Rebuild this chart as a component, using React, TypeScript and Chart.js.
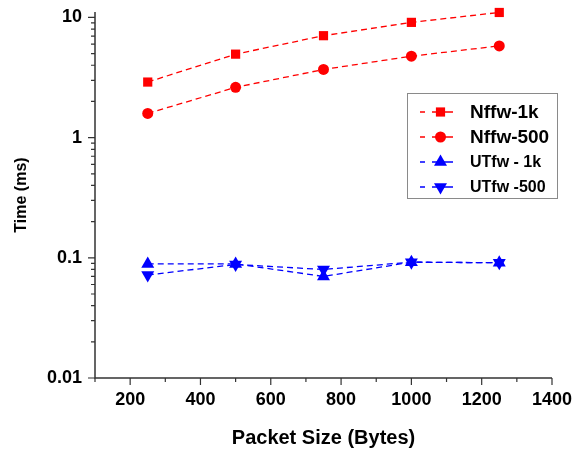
import React, { useEffect, useRef } from 'react';
import { Chart, registerables } from 'chart.js';

Chart.register(...registerables);

const packetSizes = [250, 500, 750, 1000, 1250];
const nffw1k = [2.9, 4.95, 7.05, 9.1, 11.0];
const nffw500 = [1.59, 2.62, 3.69, 4.76, 5.8];
const utfw1k = [0.089, 0.089, 0.07, 0.092, 0.091];
const utfw500 = [0.072, 0.088, 0.08, 0.092, 0.091];
const seriesLabels = ['Nffw-1k', 'Nffw-500', 'UTfw - 1k', 'UTfw -500'];

const yDecades = [0.01, 0.1, 1, 10];
const yDecadeLabels = ['0.01', '0.1', '1', '10'];
const yMinorMultipliers = [2, 3, 4, 5, 6, 7, 8, 9];
const xTickValues = [100, 200, 300, 400, 500, 600, 700, 800, 900, 1000, 1100, 1200, 1300, 1400];
const xTickLabels = ['', '200', '', '400', '', '600', '', '800', '', '1000', '', '1200', '', '1400'];

const FONT = '"Liberation Sans", Arial, sans-serif';
const RED = '#ff0000';
const BLUE = '#0000ff';
const AXIS = '#333333';

type Marker = { style: string; color: string; radius: number; rotation: number };
const markers: Marker[] = [
  { style: 'rect', color: RED, radius: 6.5, rotation: 0 },
  { style: 'circle', color: RED, radius: 5.5, rotation: 0 },
  { style: 'triangle', color: BLUE, radius: 7.5, rotation: 0 },
  { style: 'triangle', color: BLUE, radius: 7.5, rotation: 180 },
];

function drawMarker(ctx: CanvasRenderingContext2D, m: Marker, x: number, y: number) {
  ctx.save();
  ctx.fillStyle = m.color;
  ctx.beginPath();
  if (m.style === 'rect') {
    const s = m.radius * Math.SQRT1_2;
    ctx.rect(x - s, y - s, 2 * s, 2 * s);
  } else if (m.style === 'circle') {
    ctx.arc(x, y, m.radius, 0, Math.PI * 2);
  } else {
    let rad = (m.rotation * Math.PI) / 180;
    const r = m.radius;
    ctx.moveTo(x + Math.sin(rad) * r, y - Math.cos(rad) * r);
    rad += (2 * Math.PI) / 3;
    ctx.lineTo(x + Math.sin(rad) * r, y - Math.cos(rad) * r);
    rad += (2 * Math.PI) / 3;
    ctx.lineTo(x + Math.sin(rad) * r, y - Math.cos(rad) * r);
    ctx.closePath();
  }
  ctx.fill();
  ctx.restore();
}

const axesPlugin = {
  id: 'axesPlugin',
  afterDraw(chart: any) {
    const ctx: CanvasRenderingContext2D = chart.ctx;
    const { left, right, top, bottom } = chart.chartArea;
    const xs = chart.scales.x;
    const ys = chart.scales.y;
    ctx.save();
    ctx.strokeStyle = AXIS;
    ctx.lineWidth = 1.5;
    ctx.beginPath();
    ctx.moveTo(left, top);
    ctx.lineTo(left, bottom);
    ctx.lineTo(right, bottom);
    ctx.stroke();
    ctx.lineWidth = 1.2;
    ctx.beginPath();
    yDecades.forEach((d) => {
      const py = ys.getPixelForValue(d);
      ctx.moveTo(left, py);
      ctx.lineTo(left - 7, py);
      yMinorMultipliers.forEach((k) => {
        const v = d * k;
        if (v <= ys.max) {
          const p = ys.getPixelForValue(v);
          ctx.moveTo(left, p);
          ctx.lineTo(left - 4, p);
        }
      });
    });
    xTickValues.forEach((v, i) => {
      const px = xs.getPixelForValue(v);
      const len = xTickLabels[i] ? 7 : 4;
      ctx.moveTo(px, bottom);
      ctx.lineTo(px, bottom + len);
    });
    ctx.stroke();

    // legend
    const bx = 407.5, by = 93.5, bw = 150, bh = 105;
    ctx.fillStyle = '#ffffff';
    ctx.fillRect(bx, by, bw, bh);
    ctx.strokeStyle = '#8a8a8a';
    ctx.lineWidth = 1;
    ctx.strokeRect(bx, by, bw, bh);
    const rowY = [112, 137, 162, 187];
    const fontSizes = [19, 19, 16, 16];
    seriesLabels.forEach((label, i) => {
      const y = rowY[i];
      const m = markers[i];
      ctx.strokeStyle = m.color;
      ctx.lineWidth = 1.3;
      ctx.beginPath();
      ctx.moveTo(420, y);
      ctx.lineTo(425, y);
      ctx.moveTo(432, y);
      ctx.lineTo(453, y);
      ctx.stroke();
      drawMarker(ctx, m, 440.5, y);
      ctx.fillStyle = '#000000';
      ctx.font = `bold ${fontSizes[i]}px ${FONT}`;
      ctx.textAlign = 'left';
      ctx.textBaseline = 'middle';
      ctx.fillText(label, 470, y + 1);
    });
    ctx.restore();
  },
};

const seriesValues = [nffw1k, nffw500, utfw1k, utfw500];

export default function App() {
  const canvasRef = useRef<HTMLCanvasElement | null>(null);

  useEffect(() => {
    if (!canvasRef.current) return;
    const datasets = seriesValues.map((vals, i) => {
      const m = markers[i];
      return {
        label: seriesLabels[i],
        data: packetSizes.map((x, j) => ({ x, y: vals[j] })),
        borderColor: m.color,
        backgroundColor: m.color,
        borderWidth: 1.3,
        borderDash: [6, 4],
        pointStyle: m.style,
        pointRadius: m.radius,
        pointRotation: m.rotation,
        pointBorderWidth: 0,
        pointBackgroundColor: m.color,
        fill: false,
        tension: 0,
        clip: false,
      };
    });

    const chart = new Chart(canvasRef.current, {
      type: 'line',
      data: { datasets } as any,
      plugins: [axesPlugin],
      options: {
        animation: false,
        responsive: false,
        layout: { autoPadding: false, padding: { left: 0, top: 12, right: 30, bottom: 0 } },
        plugins: {
          legend: { display: false },
          tooltip: { enabled: false },
        },
        scales: {
          x: {
            type: 'linear',
            min: 100,
            max: 1400,
            grid: { display: false, drawTicks: false },
            border: { display: false },
            afterBuildTicks: (s: any) => {
              s.ticks = xTickValues.map((v) => ({ value: v }));
            },
            afterFit: (s: any) => {
              s.height = 71;
              s.paddingLeft = 0;
              s.paddingRight = 0;
            },
            ticks: {
              autoSkip: false,
              maxRotation: 0,
              padding: 11,
              color: '#000',
              font: { family: FONT, size: 18, weight: 'bold' },
              callback: (_v: any, i: number) => xTickLabels[i],
            },
            title: {
              display: true,
              text: 'Packet Size (Bytes)',
              color: '#000',
              font: { family: FONT, size: 20, weight: 'bold', lineHeight: 1 },
              padding: { top: 0, bottom: 0.5 },
            },
          },
          y: {
            type: 'logarithmic',
            min: 0.01,
            max: 11.1,
            grid: { display: false, drawTicks: false },
            border: { display: false },
            afterBuildTicks: (s: any) => {
              s.ticks = yDecades.map((v) => ({ value: v }));
            },
            afterFit: (s: any) => {
              s.width = 95;
              s.paddingTop = 0;
              s.paddingBottom = 0;
            },
            ticks: {
              autoSkip: false,
              padding: 13,
              color: '#000',
              font: { family: FONT, size: 18, weight: 'bold' },
              callback: (_v: any, i: number) => yDecadeLabels[i],
            },
            title: {
              display: true,
              text: 'Time (ms)',
              color: '#000',
              font: { family: FONT, size: 16, weight: 'bold', lineHeight: 1 },
              padding: { top: 13.5, bottom: 0 },
            },
          },
        },
      } as any,
    });
    return () => chart.destroy();
  }, []);

  return (
    <div style={{ position: 'absolute', left: 0, top: 0, width: 582, height: 449, background: '#fff' }}>
      <canvas ref={canvasRef} width={582} height={449} style={{ display: 'block' }} />
    </div>
  );
}
